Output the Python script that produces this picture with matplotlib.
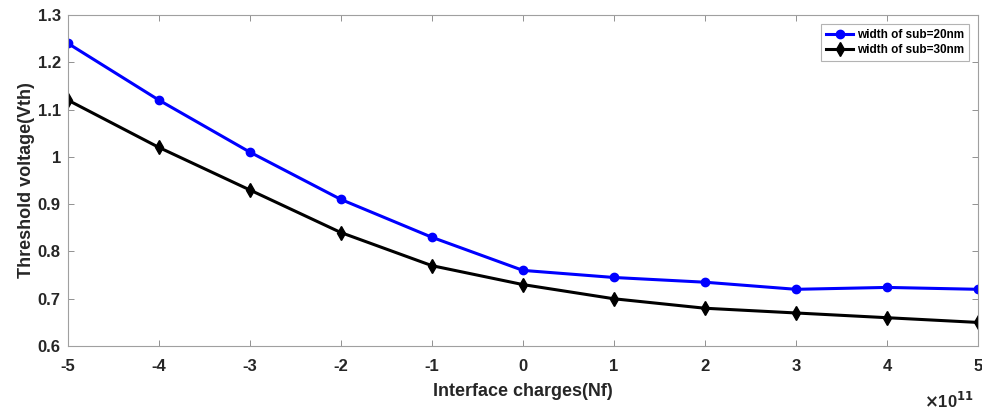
import matplotlib
matplotlib.use("Agg")
import matplotlib.pyplot as plt

x = [-5, -4, -3, -2, -1, 0, 1, 2, 3, 4, 5]
vth_20nm = [1.24, 1.12, 1.01, 0.91, 0.83, 0.76, 0.745, 0.735, 0.72, 0.724, 0.72]
vth_30nm = [1.12, 1.02, 0.93, 0.84, 0.77, 0.73, 0.70, 0.68, 0.67, 0.66, 0.65]
xticks = [-5, -4, -3, -2, -1, 0, 1, 2, 3, 4, 5]
yticks = [0.6, 0.7, 0.8, 0.9, 1.0, 1.1, 1.2, 1.3]
ytick_labels = ["0.6", "0.7", "0.8", "0.9", "1", "1.1", "1.2", "1.3"]

plt.rcParams['font.family'] = ['Liberation Sans', 'DejaVu Sans']
plt.rcParams['font.weight'] = 'bold'

fig = plt.figure(figsize=(9.82, 4.13), dpi=100)
ax = fig.add_axes([0.069, 0.162, 0.927, 0.802])

ax.plot(x, vth_20nm, color='#0000ff', lw=2.2, marker='o', ms=6, label='width of sub=20nm')
ax.plot(x, vth_30nm, color='black', lw=2.2, marker='d', ms=7, label='width of sub=30nm')

ax.set_xlim(-5, 5)
ax.set_ylim(0.6, 1.3)
ax.set_xticks(xticks)
ax.set_xticklabels([str(v) for v in xticks])
ax.set_yticks(yticks)
ax.set_yticklabels(ytick_labels)
ax.tick_params(direction='in', top=True, right=True, length=4, width=0.6,
               colors='#808080', labelcolor='#262626', labelsize=12)
ax.tick_params(axis='x', pad=9)
ax.tick_params(axis='y', pad=5)
for s in ax.spines.values():
    s.set_color('#a0a0a0')
    s.set_linewidth(0.8)

ax.set_xlabel('Interface charges(Nf)', fontsize=13, fontweight='bold', color='#262626', labelpad=7)
ax.set_ylabel('Threshold voltage(Vth)', fontsize=13, fontweight='bold', color='#262626', labelpad=2)

fig.text(0.992, 0.005, r'$\times$10$^{11}$', ha='right', va='bottom', fontsize=12,
         fontweight='bold', color='#262626')

leg = ax.legend(loc='upper right', prop={'weight': 'bold', 'size': 8.5},
                frameon=True, fancybox=False, edgecolor='#a0a0a0', handlelength=2.3,
                borderaxespad=0.8, handletextpad=0.3, borderpad=0.4, labelspacing=0.25)
leg.get_frame().set_linewidth(0.8)

fig.savefig('out.png', dpi=100)
